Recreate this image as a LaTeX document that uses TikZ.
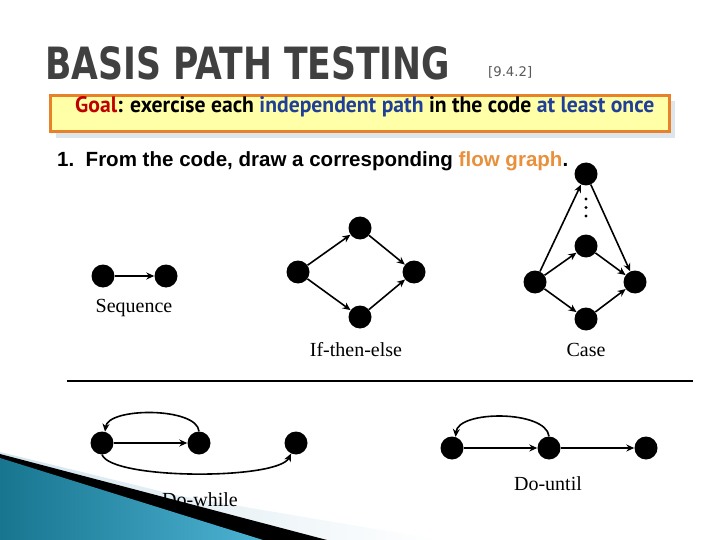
\documentclass[tikz,border=0pt]{standalone}
\usepackage{fontspec}
\setmainfont{Liberation Serif}
\newfontfamily\titlefont{DejaVu Sans}
\newfontfamily\goalfont{PT Sans}
\newfontfamily\armfont{Liberation Sans}
\usetikzlibrary{arrows.meta}
\definecolor{goalred}{HTML}{C00000}
\definecolor{goalblue}{HTML}{1F3F99}
\definecolor{flowor}{HTML}{E8903C}
\definecolor{boxor}{HTML}{E8822A}
\definecolor{boxfill}{HTML}{FFFFA8}
\definecolor{boxshadow}{HTML}{DCE6EC}
\definecolor{titlegray}{HTML}{404040}
\definecolor{tealdark}{HTML}{17758F}
\definecolor{teallight}{HTML}{4DB3D3}
\definecolor{paleblue}{HTML}{D3E5EE}
\tikzset{
  dot/.style={circle,fill=black,draw=none,minimum size=23pt,inner sep=0pt},
  edge/.style={line width=1.6pt,-{Stealth[length=8pt,width=7pt]}},
  lbl/.style={font=\fontsize{20}{22}\selectfont,inner sep=0pt},
}
\begin{document}
\begin{tikzpicture}[x=1pt,y=-1pt]
\useasboundingbox (0,0) rectangle (720,540);
\fill[white] (0,0) rectangle (720,540);

% title
\node[anchor=base west,inner sep=0pt,text=titlegray] (title) at (45,80)
  {\resizebox{405pt}{33pt}{\titlefont\bfseries BASIS PATH TESTING}};
\node[anchor=base west,inner sep=0pt,text=black!65] (ref) at (488,77)
  {\resizebox{44pt}{!}{\titlefont [9.4.2]}};

% goal box
\fill[boxshadow] (56,101) rectangle (675,138);
\draw[boxor,line width=3pt,fill=boxfill] (50,96) rectangle (669,132);
\node[anchor=base west,inner sep=0pt] (goal) at (75,113)
  {\resizebox{579pt}{16pt}{\goalfont\bfseries\textcolor{goalred}{Goal}: exercise each \textcolor{goalblue}{independent path} in the code \textcolor{goalblue}{at least once}}};

% step line
\node[anchor=base west,inner sep=0pt] (step1) at (57,167)
  {\resizebox{511pt}{!}{\armfont\bfseries 1.\ \ From the code, draw a corresponding \textcolor{flowor}{flow graph}.}};

% sequence
\node[dot] (s1) at (103,276) {};
\node[dot] (s2) at (166,276) {};
\draw[edge] (s1) -- (s2);
\node[lbl] (seqlbl) at (134,308) {Sequence};

% if-then-else
\node[dot] (i1) at (298,272) {};
\node[dot] (i2) at (360,228) {};
\node[dot] (i3) at (414,272) {};
\node[dot] (i4) at (360,317) {};
\draw[edge] (i1) -- (i2);
\draw[edge] (i2) -- (i3);
\draw[edge] (i1) -- (i4);
\draw[edge] (i4) -- (i3);
\node[lbl] (itelbl) at (356,350) {If-then-else};

% case
\node[dot] (c0) at (586,174) {};
\node[dot] (cm) at (586,246) {};
\node[dot] (cl) at (535,282) {};
\node[dot] (cr) at (635,282) {};
\node[dot] (cb) at (586,319) {};
\fill (586,199) circle (1.6);
\fill (586,207.5) circle (1.6);
\fill (586,216) circle (1.6);
\draw[edge] (cl) -- (c0);
\draw[edge] (c0) -- (cr);
\draw[edge] (cl) -- (cm);
\draw[edge] (cm) -- (cr);
\draw[edge] (cl) -- (cb);
\draw[edge] (cb) -- (cr);
\node[lbl] (caselbl) at (586,350) {Case};

% separator
\draw[line width=2.5pt] (67,381) -- (693,381);

% pale band of the decoration (behind the label)
\shade[left color=paleblue,right color=white] (0,452) -- (180,496) -- (440,540) -- (0,540) -- cycle;

% do-while
\node[dot] (w1) at (102,443) {};
\node[dot] (w2) at (199,443) {};
\node[dot] (w3) at (296,443) {};
\draw[edge] (w1) -- (w2);
\draw[edge] (w2.north) .. controls (197,407) and (108,407) .. (w1.75);
\draw[edge] (w1.south) .. controls (112,480) and (278,480) .. (w3.245);
\node[lbl] (dwlbl) at (200,500) {Do-while};

% do-until
\node[dot] (u1) at (452,448) {};
\node[dot] (u2) at (549,448) {};
\node[dot] (u3) at (646,448) {};
\draw[edge] (u1) -- (u2);
\draw[edge] (u2) -- (u3);
\draw[edge] (u2.north) .. controls (546,410) and (458,410) .. (u1.72);
\node[lbl] (dulbl) at (548,484) {Do-until};

% dark bands of the decoration (over the label)
\fill[black] (0,454) -- (327,540) -- (0,540) -- cycle;
\shade[left color=tealdark,right color=teallight] (0,458) -- (263,540) -- (0,540) -- cycle;
\end{tikzpicture}
\end{document}
